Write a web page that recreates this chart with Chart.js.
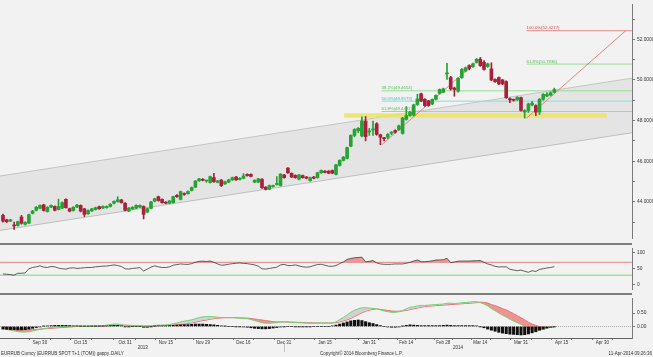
<!DOCTYPE html>
<html><head><meta charset="utf-8">
<script src="https://cdn.jsdelivr.net/npm/chart.js@4/dist/chart.umd.min.js"></script>
<style>
html,body{margin:0;padding:0;background:#f2f2f2;width:653px;height:357px;overflow:hidden;position:relative}
canvas{position:absolute;left:0}
#c1{top:0}
#c2{top:244px}
#c3{top:294px}
.sep{position:absolute;left:0;width:632px;height:2px;background:#7d7d7d;z-index:5}
.txt{position:absolute;font-family:"Liberation Sans",Arial,sans-serif;font-size:4.5px;line-height:5px;color:#333;white-space:nowrap}
</style></head><body>
<canvas id="c1" width="653" height="243"></canvas>
<canvas id="c2" width="653" height="50"></canvas>
<canvas id="c3" width="653" height="63"></canvas>
<div class="sep" style="top:243px"></div>
<div class="sep" style="top:293px"></div>
<div class="txt" style="left:1px;top:351px">EURRUB Curncy (EURRUB SPOT T+1 (TOM)) gappy..DAILY</div>
<div class="txt" style="left:320px;top:351px">Copyright© 2014 Bloomberg Finance L.P.</div>
<div class="txt" style="right:1px;top:351px">11-Apr-2014 09:26:36</div>
<script>
// ---------- DATA ----------
// daily candles [open, high, low, close], 16-Sep-2013 .. 11-Apr-2014
const candles = [
[43.33,43.40,43.00,43.05],[43.11,43.14,42.98,43.02],[43.05,43.14,43.02,43.11],[42.84,43.00,42.64,42.81],[42.83,43.05,42.80,43.02],
[43.25,43.33,42.90,42.94],[42.89,43.02,42.85,42.98],[42.95,43.40,42.92,43.36],[43.43,43.58,43.40,43.54],[43.58,43.77,43.55,43.73],
[43.68,43.85,43.65,43.82],[43.85,43.88,43.54,43.57],[43.52,43.76,43.49,43.73],[43.74,43.85,43.71,43.82],[43.77,43.80,43.55,43.58],
[43.62,44.13,43.60,43.77],[43.69,44.00,43.66,43.96],[44.12,44.15,43.68,43.71],[43.66,43.69,43.50,43.54],[43.57,43.76,43.54,43.73],
[43.74,43.87,43.71,43.84],[43.82,43.85,43.50,43.54],[43.65,43.68,43.27,43.38],[43.41,43.60,43.38,43.57],[43.55,43.68,43.52,43.65],
[43.62,43.74,43.59,43.71],[43.76,43.79,43.63,43.66],[43.69,43.80,43.66,43.77],[43.71,43.80,43.68,43.77],[43.77,43.91,43.74,43.88],
[43.93,44.05,43.90,44.02],[44.01,44.25,43.98,44.10],[44.09,44.12,43.93,43.96],[43.93,43.96,43.55,43.58],[43.54,43.72,43.51,43.69],
[43.65,43.76,43.62,43.73],[43.69,43.85,43.66,43.82],[43.74,43.85,43.71,43.82],[43.77,43.80,43.15,43.38],[43.49,43.69,43.46,43.66],
[43.68,44.02,43.65,43.99],[44.03,44.18,44.00,44.15],[44.25,44.28,44.03,44.06],[44.12,44.15,43.93,43.96],[43.98,44.01,43.90,43.93],
[43.93,44.07,43.90,44.04],[43.96,44.28,43.93,44.25],[44.32,44.35,44.22,44.25],[44.12,44.53,44.09,44.50],[44.40,44.44,44.32,44.36],
[44.40,44.54,44.37,44.51],[44.56,44.73,44.53,44.70],[44.72,45.05,44.69,45.02],[45.03,45.16,45.00,45.13],[45.11,45.14,45.03,45.06],
[45.02,45.07,44.96,45.04],[44.95,45.27,44.92,45.24],[45.19,45.40,44.96,44.99],[44.96,45.06,44.93,45.03],[45.07,45.10,44.75,44.80],
[44.88,45.02,44.85,44.99],[44.97,45.11,44.94,45.08],[45.08,45.22,45.05,45.19],[45.22,45.25,45.05,45.08],[45.10,45.19,45.07,45.16],
[45.16,45.39,45.13,45.27],[45.35,45.38,45.26,45.29],[45.35,45.38,45.22,45.25],[44.97,45.09,44.94,45.06],[44.97,45.16,44.94,45.13],
[45.11,45.14,44.66,44.69],[44.72,44.75,44.58,44.61],[44.62,44.83,44.59,44.80],[44.75,44.82,44.72,44.79],[44.85,45.24,44.82,44.87],
[44.80,45.39,44.77,45.36],[45.32,45.35,45.16,45.19],[45.66,45.69,45.40,45.43],[45.40,45.43,45.19,45.22],[45.30,45.33,45.16,45.19],
[45.11,45.35,45.08,45.32],[45.29,45.32,45.16,45.19],[45.22,45.25,45.13,45.16],[45.04,45.22,45.01,45.19],[45.22,45.25,45.13,45.16],
[45.19,45.46,45.16,45.43],[45.43,45.57,45.40,45.54],[45.51,45.54,45.42,45.45],[45.51,45.54,45.38,45.41],[45.54,45.57,45.38,45.41],
[45.35,45.85,45.32,45.82],[45.79,46.07,45.76,46.04],[46.04,46.23,46.01,46.20],[46.14,46.70,46.11,46.67],[46.74,47.30,46.71,47.27],
[47.27,47.60,47.20,47.56],[47.50,47.66,47.40,47.62],[47.24,48.18,47.20,47.98],[47.98,48.20,47.00,47.21],[47.44,47.62,47.27,47.47],
[47.54,47.97,47.27,47.58],[47.84,47.90,47.28,47.32],[47.30,47.33,46.81,47.18],[47.14,47.18,47.00,47.11],[47.18,47.36,47.10,47.32],
[47.38,47.46,47.30,47.41],[47.51,47.55,47.38,47.43],[47.56,47.78,47.52,47.74],[47.37,48.16,47.33,48.12],[48.06,48.69,48.02,48.25],
[48.25,48.45,48.20,48.41],[48.27,48.81,48.22,48.77],[48.79,49.30,48.75,49.07],[49.32,49.35,48.93,48.97],[49.05,49.08,48.70,48.74],
[48.97,49.00,48.70,48.74],[48.82,49.07,48.78,49.04],[49.05,49.27,49.02,49.24],[49.34,49.56,49.30,49.53],[49.40,49.60,49.37,49.56],
[50.30,50.82,50.03,50.34],[50.12,50.18,49.50,49.56],[49.60,49.65,49.20,49.53],[49.45,50.12,49.40,50.08],[50.12,50.56,50.08,50.52],
[50.44,50.64,50.40,50.60],[50.71,50.75,50.50,50.57],[50.66,50.83,50.62,50.79],[50.87,51.06,50.83,51.02],[51.02,51.11,50.67,50.71],
[50.87,50.95,50.48,50.52],[50.66,50.83,50.62,50.79],[50.55,50.85,49.96,50.00],[50.03,50.06,49.88,49.92],[50.12,50.15,49.77,49.81],
[50.00,50.03,49.77,49.81],[49.92,49.96,49.09,49.13],[49.08,49.12,48.88,49.02],[49.03,49.06,48.96,49.00],[49.02,49.18,48.99,49.15],
[49.13,49.16,48.46,48.50],[48.42,48.54,48.12,48.50],[48.50,48.86,48.40,48.82],[48.77,48.95,48.72,48.86],[48.74,48.78,48.25,48.42],
[48.42,49.09,48.30,49.05],[49.05,49.33,49.00,49.29],[49.21,49.38,49.18,49.29],[49.26,49.42,49.22,49.37],[49.40,49.60,49.37,49.53]
];
// RSI (14)
const rsi = [34,33,32,30,36,36,37,50,54,56, 59,55,54,57,56,52,50,49,52,53, 51,52,53,54,54,56,57,58,58.5,60,
62,60,57,50,49,51,52,53.5,43,49, 55,59,56,54,54,56,61,63,65,64, 63.5,66,70,73,73.5,72.5,74,70,65,61,
62,64,66,67,68,66.5,66,64,62,58, 50,49,51,53,55,62,63.5,60,60,62, 59,56,55,56,60,63,64,61,58,57.5,
60,66,71,79,82,84,85,86,71.5,73, 75.5,68,65,64,63.5,64,65,65,65,67, 70,74,77,72,72,73,74.5,77,77.5,78,
82.5,69,71,73.5,74,74,74,74.5,75,75.5, 70,65,62,57.5,55.5,56,56,48.5,46,44, 46,42,39,44,41.5,48,50,52.5,54,56.5];
// MACD line, signal line, histogram
const macd = [-0.08,-0.11,-0.14,-0.17,-0.19,-0.21,-0.21,-0.20,-0.17,-0.14, -0.11,-0.08,-0.06,-0.04,-0.02,-0.01,0.00,0.01,0.01,0.01,
0.02,0.01,0.00,0.00,0.01,0.01,0.02,0.03,0.05,0.07, 0.09,0.09,0.07,0.03,0.01,0.01,0.02,0.02,-0.02,-0.02,
0.01,0.04,0.05,0.05,0.06,0.07,0.10,0.13,0.17,0.20, 0.22,0.25,0.29,0.33,0.36,0.37,0.37,0.36,0.35,0.33,
0.33,0.33,0.33,0.32,0.31,0.30,0.29,0.26,0.22,0.18, 0.14,0.12,0.12,0.13,0.14,0.16,0.17,0.17,0.16,0.15,
0.14,0.13,0.12,0.12,0.12,0.13,0.13,0.13,0.13,0.13, 0.17,0.26,0.34,0.43,0.53,0.61,0.66,0.70,0.70,0.69,
0.68,0.66,0.62,0.58,0.55,0.53,0.53,0.55,0.60,0.66, 0.72,0.74,0.77,0.79,0.79,0.80,0.81,0.82,0.83,0.84,
0.87,0.87,0.86,0.87,0.89,0.90,0.91,0.93,0.93,0.89, 0.84,0.77,0.67,0.59,0.50,0.42,0.35,0.27,0.20,0.14,
0.08,0.00,-0.08,-0.13,-0.14,-0.14,-0.11,-0.07,-0.03,-0.02];
const signal = [-0.02,-0.03,-0.05,-0.06,-0.08,-0.09,-0.10,-0.11,-0.11,-0.11, -0.10,-0.09,-0.08,-0.07,-0.06,-0.05,-0.04,-0.03,-0.02,-0.01,
0.00,0.00,0.00,0.00,0.01,0.01,0.01,0.02,0.02,0.03, 0.04,0.05,0.05,0.05,0.04,0.04,0.03,0.03,0.02,0.02,
0.02,0.02,0.03,0.03,0.04,0.05,0.06,0.07,0.08,0.09, 0.11,0.13,0.16,0.19,0.22,0.24,0.27,0.29,0.31,0.32,
0.33,0.33,0.33,0.33,0.32,0.32,0.31,0.30,0.28,0.26, 0.24,0.22,0.20,0.18,0.17,0.17,0.17,0.16,0.16,0.16,
0.15,0.15,0.14,0.14,0.13,0.13,0.13,0.13,0.13,0.13, 0.14,0.17,0.21,0.25,0.30,0.37,0.44,0.51,0.57,0.61,
0.64,0.66,0.64,0.62,0.60,0.58,0.57,0.57,0.58,0.60, 0.63,0.66,0.69,0.72,0.74,0.76,0.77,0.78,0.79,0.80,
0.81,0.82,0.83,0.84,0.85,0.86,0.87,0.88,0.89,0.91, 0.90,0.88,0.82,0.78,0.73,0.67,0.62,0.55,0.48,0.40,
0.33,0.25,0.16,0.09,0.04,-0.01,-0.02,-0.03,-0.03,-0.02];
const hist = [-0.10,-0.11,-0.12,-0.12,-0.13,-0.13,-0.12,-0.10,-0.07,-0.04, -0.02,0.01,0.02,0.03,0.04,0.04,0.04,0.04,0.03,0.02,
0.02,0.01,0.01,0.01,0.01,0.01,0.01,0.01,0.02,0.03, 0.04,0.04,0.02,-0.01,-0.01,0.00,0.00,0.00,-0.03,-0.03,
-0.01,0.01,0.02,0.02,0.02,0.03,0.04,0.05,0.06,0.07, 0.07,0.08,0.09,0.09,0.09,0.08,0.07,0.06,0.04,0.02,
0.01,0.00,0.00,-0.01,-0.01,-0.02,-0.03,-0.05,-0.07,-0.08, -0.09,-0.09,-0.08,-0.06,-0.04,-0.02,-0.01,0.00,0.00,-0.01,
-0.01,-0.01,-0.01,-0.01,0.00,0.00,0.00,0.00,0.00,0.02, 0.05,0.09,0.13,0.17,0.21,0.23,0.24,0.22,0.18,0.14,
0.11,0.07,0.03,0.00,-0.02,-0.03,-0.03,-0.02,0.01,0.04, 0.06,0.05,0.04,0.03,0.03,0.03,0.03,0.03,0.03,0.04,
0.05,0.04,0.03,0.03,0.03,0.03,0.03,0.03,0.02,-0.01, -0.05,-0.10,-0.14,-0.18,-0.22,-0.25,-0.27,-0.29,-0.30,-0.31,
-0.32,-0.31,-0.28,-0.24,-0.20,-0.14,-0.10,-0.06,-0.03,-0.01];
// x-axis (trading-day index) labels
const xTickIdx = [10,21,33,44,54,65,76,87,99,109,119,129,140,151,162];
const xTickLabels = ['Sep 30','Oct 15','Oct 31','Nov 15','Nov 29','Dec 16','Dec 31','Jan 15','Jan 31','Feb 14','Feb 28','Mar 14','Mar 31','Apr 15','Apr 30'];
const yearLabels = ['2013','2014'];
const yearIdx = [37.8, 123];
const yearBoundaryIdx = 76;
const xRange = [-0.81, 170];
// price axis
const priceTicks = [43,44,45,46,47,48,49,50,51,52,53];
const priceLabelled = [44,46,48,50,52];
const rsiTicks = [0,50,100];
const rsiBands = [70,30];
const macdTicks = [0,0.5];
// drawings
const channelUpper = [45.27, 50.09];   // at xRange ends
const channelLower = [42.59, 47.40];
const supportLevel = 48.25;
const supportSpan = [92.2, 163.2];
const trend1 = [[102.3,46.80],[129.3,51.11]];
const trend2 = [[141.5,48.12],[168.3,52.4277]];
const fibRetLabels = ['38.2%','50.0%','61.8%'];
const fibRetValues = [49.4654, 48.9573, 48.4487];
const fibExtLabels = ['61.8%','100.0%'];
const fibExtValues = [50.7836, 52.4277];

// ---------- STYLE ----------
const FONT = '"Liberation Sans", Arial, sans-serif';
Chart.defaults.font.family = FONT;
const GREEN = '#25a232', RED = '#a8203a';
const fibRetColors = ['#55bb55','#33c4c4','#55bb55'];
const fibRetLine = ['#96dc96','#78e2e2','#96dc96'];
const fibExtColors = ['#55bb55','#d04a4a'];
const fibExtLine = ['#96dc96','#e08a8a'];

const base = {
  responsive:false, animation:false, devicePixelRatio:1, events:[],
  layout:{padding:0},
  plugins:{legend:{display:false}, tooltip:{enabled:false}}
};
function rightAxis(min,max,ticks,fmt,labelled){
  return {type:'linear', position:'right', min, max,
    afterFit:s=>{s.width=21;},
    afterBuildTicks:s=>{s.ticks=ticks.map(v=>({value:v}));},
    ticks:{autoSkip:false, padding:2, color:'#333', font:{size:4.8},
      callback:v=> (labelled? labelled.includes(v):true) ? fmt(v) : ''},
    grid:{drawOnChartArea:false, drawTicks:true, tickLength:3, color:'#777'},
    border:{display:true, color:'#7a7a7a', width:1}};
}
const hiddenX = {type:'linear', min:xRange[0], max:xRange[1], display:false, offset:false};
const idx = candles.map((c,i)=>i);
const lineStyle = (color,w)=>({type:'line', borderColor:color, borderWidth:w, pointRadius:0, fill:false, tension:0});

// ---------- MAIN PRICE CHART ----------
const fibPlugin = {
  id:'fibText',
  afterDatasetsDraw(chart){
    const {ctx, scales:{x,y}} = chart;
    ctx.save();
    ctx.font = '4.3px '+FONT;
    ctx.textBaseline = 'bottom';
    fibRetValues.forEach((v,k)=>{
      ctx.fillStyle = fibRetColors[k];
      ctx.fillText(fibRetLabels[k]+'('+v.toFixed(4)+')', x.getPixelForValue(trend1[0][0]), y.getPixelForValue(v)-0.5);
    });
    fibExtValues.forEach((v,k)=>{
      ctx.fillStyle = fibExtColors[k];
      ctx.fillText(fibExtLabels[k]+'('+v.toFixed(4)+')', x.getPixelForValue(trend2[0][0]), y.getPixelForValue(v)-0.5);
    });
    ctx.restore();
  }
};
const mainDatasets = [
  {type:'bar', order:0, grouped:false, barThickness:3, minBarLength:1, borderWidth:0,
   data: candles.map((c,i)=>({x:i, y:[Math.min(c[0],c[3]), Math.max(c[0],c[3])]})),
   backgroundColor: ctx=>{const c=candles[ctx.dataIndex]; return c[3]>=c[0]?GREEN:RED;}},
  {type:'bar', order:1, grouped:false, barThickness:1, borderWidth:0,
   data: candles.map((c,i)=>({x:i, y:[c[2], c[1]]})),
   backgroundColor: ctx=>{const c=candles[ctx.dataIndex]; return c[3]>=c[0]?GREEN:RED;}},
  Object.assign(lineStyle('#e06a6a',0.8),{order:2, data:trend1.map(p=>({x:p[0],y:p[1]}))}),
  Object.assign(lineStyle('#e06a6a',0.8),{order:2, data:trend2.map(p=>({x:p[0],y:p[1]}))}),
  ...fibRetValues.map((v,k)=>Object.assign(lineStyle(fibRetLine[k],1),{order:3, data:[{x:trend1[0][0],y:v},{x:xRange[1],y:v}]})),
  ...fibExtValues.map((v,k)=>Object.assign(lineStyle(fibExtLine[k],1),{order:3, data:[{x:trend2[0][0],y:v},{x:xRange[1],y:v}]})),
  Object.assign(lineStyle('rgba(236,228,95,0.85)',4.5),{order:4, borderCapStyle:'butt', data:[{x:supportSpan[0],y:supportLevel},{x:supportSpan[1],y:supportLevel}]}),
  Object.assign(lineStyle('#b9b9b9',0.8),{order:5, fill:'+1', backgroundColor:'rgba(0,0,0,0.055)', data:[{x:xRange[0],y:channelUpper[0]},{x:xRange[1],y:channelUpper[1]}]}),
  Object.assign(lineStyle('#b9b9b9',0.8),{order:5, data:[{x:xRange[0],y:channelLower[0]},{x:xRange[1],y:channelLower[1]}]})
];
new Chart(document.getElementById('c1'), {
  type:'line',
  data:{datasets:mainDatasets},
  options:Object.assign({}, base, {
    scales:{x:hiddenX, y:rightAxis(42.21,53.70,priceTicks,v=>v.toFixed(4),priceLabelled)}
  }),
  plugins:[fibPlugin]
});

// ---------- RSI ----------
new Chart(document.getElementById('c2'), {
  type:'line',
  data:{datasets:[
    Object.assign(lineStyle('#3a3a3a',0.8),{order:0, data:rsi.map((v,i)=>({x:i,y:v})),
      fill:{target:{value:rsiBands[0]}, above:'rgba(238,120,120,0.75)', below:'rgba(0,0,0,0)'}}),
    Object.assign(lineStyle('#e48888',1),{order:1, data:[{x:xRange[0],y:rsiBands[0]},{x:xRange[1],y:rsiBands[0]}]}),
    Object.assign(lineStyle('#9be09b',1.5),{order:1, data:[{x:xRange[0],y:rsiBands[1]},{x:xRange[1],y:rsiBands[1]}]})
  ]},
  options:Object.assign({}, base, {
    scales:{x:hiddenX, y:rightAxis(-13.25,111.75,rsiTicks,v=>String(v))}
  })
});

// ---------- MACD ----------
const allXTicks = [];
xTickIdx.forEach((v,k)=>{ allXTicks.push(v); if(k<xTickIdx.length-1) allXTicks.push((v+xTickIdx[k+1])/2); });
const yearPlugin = {
  id:'years',
  afterDraw(chart){
    const {ctx, scales:{x}} = chart;
    ctx.save();
    ctx.font = '4.5px '+FONT; ctx.fillStyle='#333'; ctx.textAlign='center'; ctx.textBaseline='middle';
    yearLabels.forEach((t,k)=>ctx.fillText(t, x.getPixelForValue(yearIdx[k]), 54));
    const bx = Math.round(x.getPixelForValue(yearBoundaryIdx))+0.5;
    ctx.strokeStyle='#c4c4c4'; ctx.lineWidth=1;
    ctx.beginPath(); ctx.moveTo(bx,50); ctx.lineTo(bx,58); ctx.stroke();
    ctx.restore();
  }
};
new Chart(document.getElementById('c3'), {
  type:'line',
  data:{datasets:[
    {type:'bar', order:0, grouped:false, barThickness:2.4, borderWidth:0, backgroundColor:'#111',
     data:hist.map((v,i)=>({x:i,y:v}))},
    Object.assign(lineStyle('#6fd46f',1),{order:1, data:macd.map((v,i)=>({x:i,y:v})),
      fill:{target:'+1', above:'rgba(205,205,205,0.85)', below:'rgba(240,105,105,0.7)'}}),
    Object.assign(lineStyle('#e26a6a',1),{order:1, data:signal.map((v,i)=>({x:i,y:v}))}),
    Object.assign(lineStyle('#9a9a9a',0.8),{order:2, borderDash:[1,1], data:[{x:xRange[0],y:0},{x:xRange[1],y:0}]})
  ]},
  options:Object.assign({}, base, {
    scales:{
      x:{type:'linear', min:xRange[0], max:xRange[1], offset:false,
        afterFit:s=>{s.height=19;},
        afterBuildTicks:s=>{s.ticks=allXTicks.map(v=>({value:v}));},
        ticks:{autoSkip:false, maxRotation:0, minRotation:0, padding:0, color:'#333', font:{size:4.5},
          callback:v=>{const k=xTickIdx.indexOf(v); return k>=0?xTickLabels[k]:'';}},
        grid:{drawOnChartArea:false, drawTicks:true, tickLength:2, color:'#777'},
        border:{display:true, color:'#666', width:1}},
      y:rightAxis(-0.4333,1.0333,macdTicks,v=>v.toFixed(2))
    }
  }),
  plugins:[yearPlugin]
});
</script>
</body></html>
